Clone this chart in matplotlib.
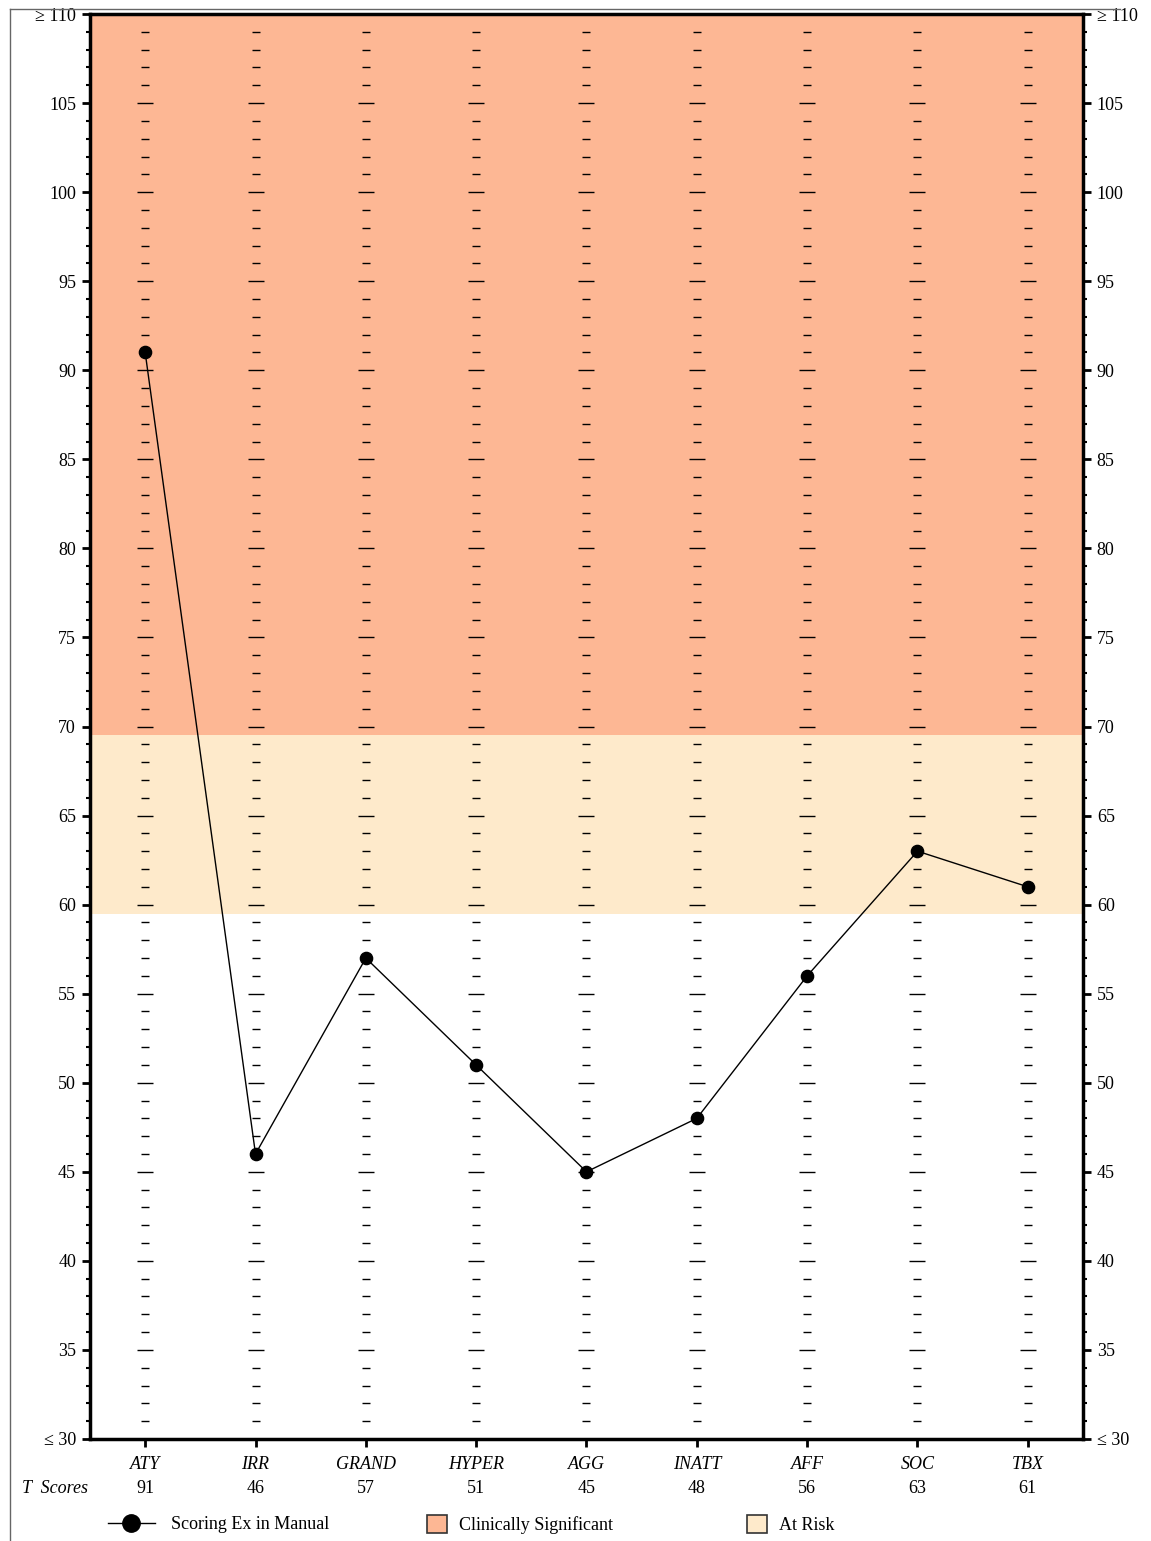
import matplotlib
matplotlib.use("Agg")
import matplotlib.pyplot as plt
from matplotlib.lines import Line2D
from matplotlib.patches import Patch
import numpy as np

plt.rcParams["font.family"] = ["Liberation Serif", "DejaVu Serif"]
plt.rcParams["font.size"] = 13

# donnees
scales = ["ATY", "IRR", "GRAND", "HYPER", "AGG", "INATT", "AFF", "SOC", "TBX"]
t_scores = [91, 46, 57, 51, 45, 48, 56, 63, 61]
y_ticks = [30, 35, 40, 45, 50, 55, 60, 65, 70, 75, 80, 85, 90, 95, 100, 105, 110]
y_labels = ["≤ 30", "35", "40", "45", "50", "55", "60", "65", "70", "75", "80",
            "85", "90", "95", "100", "105", "≥ 110"]
clinical_band = (69.5, 110)
risk_band = (59.5, 69.5)
clinical_color = "#FDB794"
risk_color = "#FEEACB"

fig = plt.figure(figsize=(11.51, 15.41), dpi=100)
ax = fig.add_axes([0.0782, 0.0662, 0.8627, 0.9247])

x = np.arange(len(scales))
ax.set_xlim(-0.5, len(scales) - 0.5)
ax.set_ylim(30, 110)

ax.axhspan(*clinical_band, color=clinical_color, lw=0, zorder=0)
ax.axhspan(*risk_band, color=risk_color, lw=0, zorder=0)

# petits tirets a chaque echelle
minor_vals = [v for v in range(31, 110) if v % 5 != 0]
major_vals = [v for v in range(35, 110, 5)]
for xi in x:
    ax.plot([xi] * len(minor_vals), minor_vals, ls="none", marker="_", ms=5.8,
            mew=1.0, color="black", zorder=1)
    ax.plot([xi] * len(major_vals), major_vals, ls="none", marker="_", ms=11.5,
            mew=1.0, color="black", zorder=1)

ax.plot(x, t_scores, color="black", lw=1.0, marker="o", ms=8.8, zorder=3)

ax.set_yticks(y_ticks)
ax.set_yticklabels(y_labels)
ax.set_yticks(range(30, 111), minor=True)
ax.tick_params(axis="y", which="major", length=6, width=2, direction="out",
               right=True, labelright=True, labelsize=13, pad=4)
ax.tick_params(axis="y", which="minor", length=3, width=1.5, direction="out",
               right=True)
ax.set_xticks(x)
ax.set_xticklabels(scales, fontstyle="italic")
ax.tick_params(axis="x", length=6, width=2, direction="out", labelsize=13, pad=6)
for spine in ax.spines.values():
    spine.set_linewidth(2.5)

# ligne des T scores
ax.text(-0.5 - 0.32, -0.0345, "T  Scores", transform=ax.get_xaxis_transform(),
        ha="center", va="center", fontstyle="italic", fontsize=13)
for xi, s in zip(x, t_scores):
    ax.text(xi, -0.0345, str(s), transform=ax.get_xaxis_transform(),
            ha="center", va="center", fontsize=13)

# legende : trois entrees placees separement
legend_y = 0.0105
fig.legend([Line2D([0], [0], color="black", lw=1.0, marker="o", ms=12.5)],
           ["Scoring Ex in Manual"], loc="center left",
           bbox_to_anchor=(108 / 1151, legend_y), frameon=False, fontsize=13,
           borderpad=0, borderaxespad=0, handlelength=2.6, handletextpad=0.9)
fig.legend([Patch(facecolor=clinical_color, edgecolor="#333333", lw=1.2)],
           ["Clinically Significant"], loc="center left",
           bbox_to_anchor=(427 / 1151, legend_y), frameon=False, fontsize=13,
           borderpad=0, borderaxespad=0, handlelength=1.1, handleheight=1.1,
           handletextpad=0.65)
fig.legend([Patch(facecolor=risk_color, edgecolor="#333333", lw=1.2)],
           ["At Risk"], loc="center left",
           bbox_to_anchor=(747 / 1151, legend_y), frameon=False, fontsize=13,
           borderpad=0, borderaxespad=0, handlelength=1.1, handleheight=1.1,
           handletextpad=0.65)

# cadre fin
fig.add_artist(Line2D([0.0087, 0.973], [0.9942, 0.9942], color="#666666", lw=1.0))
fig.add_artist(Line2D([0.0087, 0.0087], [0.0, 0.9942], color="#666666", lw=1.0))

fig.savefig("out.png", dpi=100)
